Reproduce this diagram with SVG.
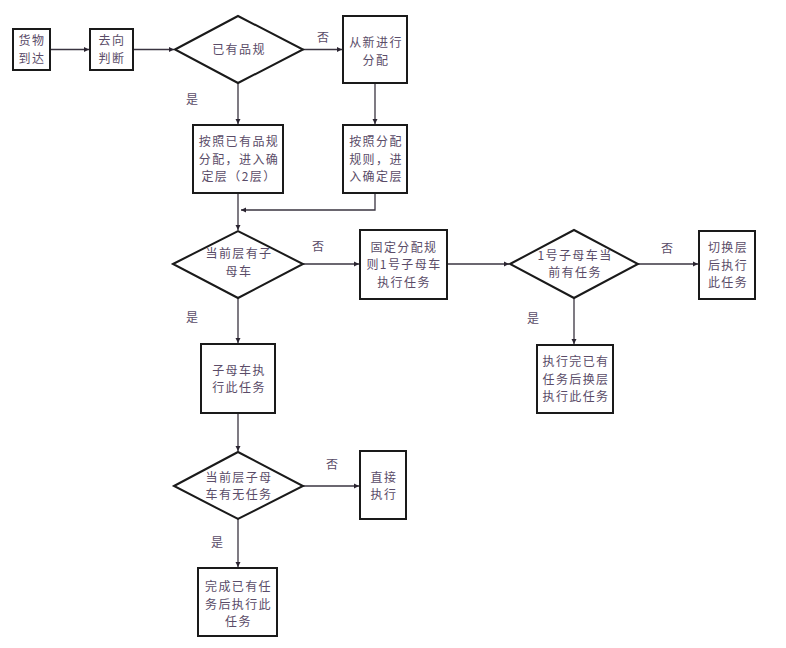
<svg xmlns="http://www.w3.org/2000/svg" width="786" height="648" viewBox="0 0 786 648">
<style>
.box{fill:#fff;stroke:#1a1a1a;stroke-width:2}
.dia{fill:#fff;stroke:#1a1a1a;stroke-width:2}
.t{font-family:"Noto Sans CJK SC","Liberation Sans",sans-serif;font-size:12px;letter-spacing:1.4px;fill:#5a4c68;text-anchor:middle}
.lbl{font-family:"Noto Sans CJK SC","Liberation Sans",sans-serif;font-size:12px;fill:#5a4c68;text-anchor:middle}
.c{fill:none;stroke:#3a3440;stroke-width:1.3}
</style>
<defs>
<marker id="ah" markerWidth="6" markerHeight="6" refX="5" refY="3" orient="auto" markerUnits="userSpaceOnUse">
<path d="M0,0.5 L5,3 L0,5.5 Z" fill="#2a2430"/>
</marker>
</defs>
<rect width="786" height="648" fill="#fff"/>
<g id="connectors">
<path class="c" d="M50,49.5 H89" marker-end="url(#ah)"/>
<path class="c" d="M133,49.5 H174" marker-end="url(#ah)"/>
<path class="c" d="M303,49.5 H342" marker-end="url(#ah)"/>
<path class="c" d="M238,83 V124" marker-end="url(#ah)"/>
<path class="c" d="M375,83 V124" marker-end="url(#ah)"/>
<path class="c" d="M375,193 V210 H241" marker-end="url(#ah)"/>
<path class="c" d="M238,193 V230" marker-end="url(#ah)"/>
<path class="c" d="M303,264 H359" marker-end="url(#ah)"/>
<path class="c" d="M447,264 H509" marker-end="url(#ah)"/>
<path class="c" d="M638,264 H698" marker-end="url(#ah)"/>
<path class="c" d="M574,298 V344" marker-end="url(#ah)"/>
<path class="c" d="M238,298 V343" marker-end="url(#ah)"/>
<path class="c" d="M238,413 V451" marker-end="url(#ah)"/>
<path class="c" d="M303,486 H359" marker-end="url(#ah)"/>
<path class="c" d="M238,519 V567" marker-end="url(#ah)"/>
<text class="lbl" x="323" y="42">否</text>
<text class="lbl" x="192" y="104">是</text>
<text class="lbl" x="318" y="251">否</text>
<text class="lbl" x="192" y="322">是</text>
<text class="lbl" x="667" y="253">否</text>
<text class="lbl" x="533" y="323">是</text>
<text class="lbl" x="332" y="469">否</text>
<text class="lbl" x="217" y="547">是</text>
</g>
<g id="n1"><rect class="box" x="13" y="29" width="37" height="41"/><text class="t" x="32" y="45">货物</text><text class="t" x="32" y="63">到达</text></g>
<g id="n2"><rect class="box" x="90" y="29" width="43" height="41"/><text class="t" x="112" y="45">去向</text><text class="t" x="112" y="63">判断</text></g>
<g id="n3"><polygon class="dia" points="175,49.5 238,16 303,49.5 238,83"/><text class="t" x="239" y="54">已有品规</text></g>
<g id="n4"><rect class="box" x="343" y="16" width="64" height="67"/><text class="t" x="376" y="47">从新进行</text><text class="t" x="376" y="64.5">分配</text></g>
<g id="n5"><rect class="box" x="193" y="125" width="90" height="68"/><text class="t" x="239" y="146">按照已有品规</text><text class="t" x="239" y="163.5">分配，进入确</text><text class="t" x="239" y="181">定层（2层）</text></g>
<g id="n6"><rect class="box" x="343" y="125" width="64" height="68"/><text class="t" x="376" y="146">按照分配</text><text class="t" x="376" y="163.5">规则，进</text><text class="t" x="376" y="181">入确定层</text></g>
<g id="n7"><polygon class="dia" points="173,264 238,231 303,264 238,298"/><text class="t" x="239" y="258">当前层有子</text><text class="t" x="239" y="275.5">母车</text></g>
<g id="n8"><rect class="box" x="360" y="230" width="87" height="69"/><text class="t" x="404" y="251.5">固定分配规</text><text class="t" x="404" y="269">则1号子母车</text><text class="t" x="404" y="286.5">执行任务</text></g>
<g id="n9"><polygon class="dia" points="510,264 574,230 638,264 574,298"/><text class="t" x="575" y="259.5">1号子母车当</text><text class="t" x="575" y="277">前有任务</text></g>
<g id="n10"><rect class="box" x="699" y="231" width="56" height="68"/><text class="t" x="728" y="252">切换层</text><text class="t" x="728" y="269.5">后执行</text><text class="t" x="728" y="287">此任务</text></g>
<g id="n11"><rect class="box" x="537" y="345" width="76" height="68"/><text class="t" x="576" y="366">执行完已有</text><text class="t" x="576" y="383.5">任务后换层</text><text class="t" x="576" y="401">执行此任务</text></g>
<g id="n12"><rect class="box" x="201" y="344" width="74" height="69"/><text class="t" x="239" y="374.5">子母车执</text><text class="t" x="239" y="392">行此任务</text></g>
<g id="n13"><polygon class="dia" points="174,486 238,452 303,486 238,519"/><text class="t" x="239" y="481.5">当前层子母</text><text class="t" x="239" y="499">车有无任务</text></g>
<g id="n14"><rect class="box" x="360" y="451" width="46" height="68"/><text class="t" x="384" y="481.5">直接</text><text class="t" x="384" y="499">执行</text></g>
<g id="n15"><rect class="box" x="198" y="568" width="79" height="68"/><text class="t" x="238.5" y="591">完成已有任</text><text class="t" x="238.5" y="608.5">务后执行此</text><text class="t" x="238.5" y="626">任务</text></g>
</svg>
